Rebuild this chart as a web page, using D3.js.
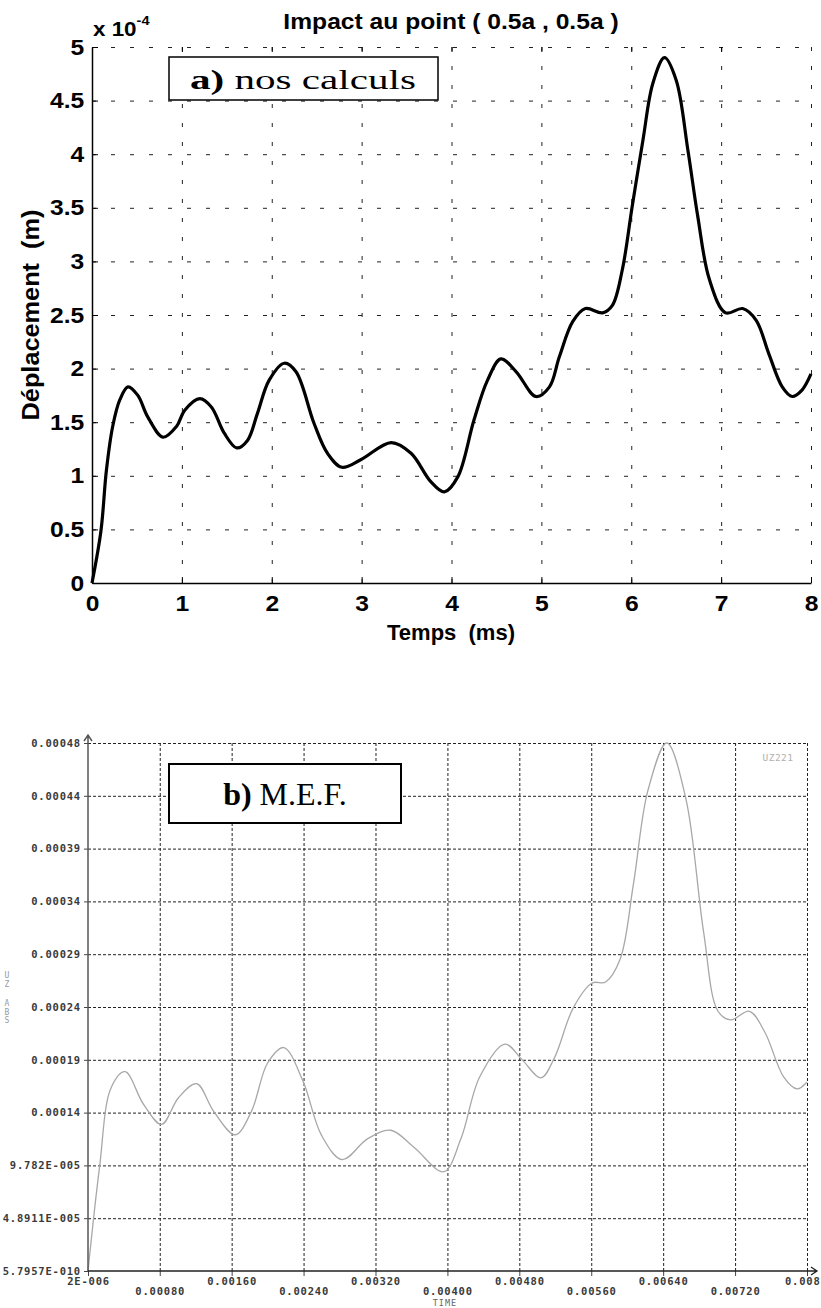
<!DOCTYPE html>
<html>
<head>
<meta charset="utf-8">
<script src="https://cdn.jsdelivr.net/npm/d3@7"></script>
<style>
  body { margin: 0; background: #fff; }
  svg { display: block; }
</style>
</head>
<body>
<script>
// --- panel a) : nos calculs (temps en ms, deplacement en 1e-4 m)
var tempsA = [0, 0.10, 0.16, 0.23, 0.31, 0.40, 0.51, 0.62, 0.79, 0.94, 1.03, 1.20, 1.33, 1.47, 1.61, 1.73, 1.84, 1.97,
  2.14, 2.27, 2.47, 2.62, 2.78, 2.99, 3.33, 3.55, 3.77, 3.92, 4.07, 4.25, 4.40, 4.55, 4.72, 4.94, 5.09, 5.20,
  5.35, 5.49, 5.68, 5.79, 5.90, 6.01, 6.13, 6.24, 6.37, 6.50, 6.63, 6.74, 6.87, 7.05, 7.24, 7.39, 7.53, 7.68,
  7.79, 7.90, 8.00];
var deplA = [0, 0.49, 1.05, 1.46, 1.71, 1.83, 1.75, 1.55, 1.36, 1.46, 1.61, 1.72, 1.64, 1.40, 1.26, 1.33, 1.58, 1.89,
  2.05, 1.97, 1.49, 1.21, 1.08, 1.15, 1.31, 1.21, 0.945, 0.85, 0.99, 1.52, 1.89, 2.09, 1.97, 1.74, 1.83, 2.11,
  2.44, 2.56, 2.52, 2.59, 2.92, 3.51, 4.13, 4.66, 4.90, 4.69, 4.04, 3.42, 2.83, 2.52, 2.56, 2.45, 2.14, 1.83,
  1.74, 1.80, 1.95];
var xTicksA = [0, 1, 2, 3, 4, 5, 6, 7, 8];
var xTickLabelsA = ["0", "1", "2", "3", "4", "5", "6", "7", "8"];
var yTicksA = [0, 0.5, 1, 1.5, 2, 2.5, 3, 3.5, 4, 4.5, 5];
var yTickLabelsA = ["0", "0.5", "1", "1.5", "2", "2.5", "3", "3.5", "4", "4.5", "5"];

// --- panel b) : M.E.F. (TIME en s, UZ en m)
var timeB = [0.000002, 0.00013, 0.00026, 0.000415, 0.00062, 0.00082, 0.00101, 0.00121, 0.00140, 0.00164, 0.00182,
  0.00200, 0.00218, 0.00239, 0.00260, 0.00283, 0.00311, 0.00337, 0.00363, 0.00396, 0.00415, 0.00436, 0.00464,
  0.00483, 0.00504, 0.00519, 0.00540, 0.00561, 0.00576, 0.00592, 0.00607, 0.00623, 0.00644, 0.00665, 0.00685,
  0.00701, 0.00715, 0.00736, 0.00753, 0.00774, 0.00789, 0.00800];
var uzB = [5.7957e-10, 9.6e-5, 1.70e-4, 1.846e-4, 1.543e-4, 1.358e-4, 1.607e-4, 1.735e-4, 1.479e-4, 1.262e-4, 1.479e-4,
  1.927e-4, 2.070e-4, 1.767e-4, 1.256e-4, 1.032e-4, 1.224e-4, 1.304e-4, 1.144e-4, 0.920e-4, 1.224e-4, 1.799e-4, 2.102e-4,
  1.958e-4, 1.789e-4, 1.974e-4, 2.438e-4, 2.668e-4, 2.677e-4, 2.885e-4, 3.588e-4, 4.450e-4, 4.891e-4, 4.386e-4, 3.140e-4,
  2.406e-4, 2.326e-4, 2.406e-4, 2.214e-4, 1.799e-4, 1.687e-4, 1.751e-4];
var xTicksB = [0.000002, 0.0008, 0.0016, 0.0024, 0.0032, 0.0040, 0.0048, 0.0056, 0.0064, 0.0072, 0.0080];
var xTickLabelsB = ["2E-006", "0.00080", "0.00160", "0.00240", "0.00320", "0.00400", "0.00480", "0.00560", "0.00640", "0.00720", "0.008"];
var yTicksB = [5.7957e-10, 4.8911e-5, 9.782e-5, 1.46733e-4, 1.95644e-4, 2.44555e-4, 2.93466e-4, 3.42377e-4, 3.91288e-4, 4.40199e-4, 4.8911e-4];
var yTickLabelsB = ["5.7957E-010", "4.8911E-005", "9.782E-005", "0.00014", "0.00019", "0.00024", "0.00029", "0.00034", "0.00039", "0.00044", "0.00048"];

var svg = d3.select("body").append("svg")
  .attr("width", 821)
  .attr("height", 1308);
svg.append("rect").attr("width", 821).attr("height", 1308).attr("fill", "#fff");

var sans = "'Liberation Sans', Arial, sans-serif";
var serif = "'Liberation Serif', 'Times New Roman', serif";
var mono = "'DejaVu Sans Mono', monospace";
var sx = 1.12; // la figure du haut est un peu etiree en largeur

// ================= panel a =================
var xA = d3.scaleLinear().domain([0, 8]).range([92, 811]);
var yA = d3.scaleLinear().domain([0, 5]).range([583, 47]);

// grille
svg.append("g")
  .attr("transform", "translate(0," + yA(0) + ")")
  .call(d3.axisBottom(xA).tickValues(xTicksA.slice(1)).tickSize(-(yA(0) - yA(5))).tickFormat(""))
  .call(function(g) { g.select(".domain").remove(); })
  .selectAll("line")
  .attr("stroke", "#222").attr("stroke-dasharray", "4,15");

svg.append("g")
  .attr("transform", "translate(" + xA(0) + ",0)")
  .call(d3.axisLeft(yA).tickValues(yTicksA.slice(1)).tickSize(-(xA(8) - xA(0))).tickFormat(""))
  .call(function(g) { g.select(".domain").remove(); })
  .selectAll("line")
  .attr("stroke", "#222").attr("stroke-dasharray", "4,15");

// petits traits en haut
svg.append("g")
  .attr("transform", "translate(0," + yA(5) + ")")
  .call(d3.axisTop(xA).tickValues(xTicksA.slice(1, 8)).tickSize(-5).tickFormat(""))
  .call(function(g) { g.select(".domain").remove(); })
  .selectAll("line").attr("stroke", "#000");

// axes
var axB = svg.append("g")
  .attr("transform", "translate(0," + yA(0) + ")")
  .call(d3.axisBottom(xA).tickValues(xTicksA).tickFormat(function(d, i) { return xTickLabelsA[i]; })
    .tickSizeInner(-6).tickSizeOuter(0).tickPadding(12));
var axL = svg.append("g")
  .attr("transform", "translate(" + xA(0) + ",0)")
  .call(d3.axisLeft(yA).tickValues(yTicksA).tickFormat(function(d, i) { return yTickLabelsA[i]; })
    .tickSizeInner(-6).tickSizeOuter(0).tickPadding(7));
[axB, axL].forEach(function(ax) {
  ax.select(".domain").attr("stroke", "#000").attr("stroke-width", 1.5);
  ax.selectAll(".tick line").attr("stroke", "#000");
  ax.selectAll("text")
    .attr("fill", "#000")
    .style("font-family", sans)
    .style("font-weight", "bold")
    .style("font-size", "22px")
    .attr("transform", "scale(" + sx + ",1)");
});

// courbe
var lineA = d3.line()
  .x(function(d) { return xA(d[0]); })
  .y(function(d) { return yA(d[1]); })
  .curve(d3.curveCatmullRom);
svg.append("path")
  .datum(d3.zip(tempsA, deplA))
  .attr("d", lineA)
  .attr("fill", "none")
  .attr("stroke", "#000")
  .attr("stroke-width", 3.2)
  .attr("stroke-linejoin", "round");

// textes
svg.append("text")
  .attr("transform", "translate(451,29) scale(" + sx + ",1)")
  .attr("text-anchor", "middle")
  .style("font-family", sans).style("font-weight", "bold").style("font-size", "22px")
  .text("Impact au point ( 0.5a , 0.5a )");

var expo = svg.append("text")
  .attr("transform", "translate(93,36) scale(" + sx + ",1)")
  .style("font-family", sans).style("font-weight", "bold").style("font-size", "20px");
expo.append("tspan").text("x 10");
expo.append("tspan").attr("dy", -11).style("font-size", "13px").text("-4");

svg.append("text")
  .attr("transform", "translate(451,640)")
  .attr("text-anchor", "middle")
  .style("font-family", sans).style("font-weight", "bold").style("font-size", "22px")
  .style("white-space", "pre")
  .text("Temps  (ms)");

svg.append("text")
  .attr("transform", "translate(39,315) rotate(-90) scale(1.15,1.1)")
  .attr("text-anchor", "middle")
  .style("font-family", sans).style("font-weight", "bold").style("font-size", "22px")
  .style("white-space", "pre")
  .text("Déplacement  (m)");

// legende a)
svg.append("rect")
  .attr("x", 169).attr("y", 57).attr("width", 269).attr("height", 43)
  .attr("fill", "#fff").attr("stroke", "#000").attr("stroke-width", 1.5);
var legA = svg.append("text")
  .attr("x", 303).attr("y", 89)
  .attr("text-anchor", "middle")
  .attr("textLength", 226).attr("lengthAdjust", "spacingAndGlyphs")
  .style("font-family", serif).style("font-size", "28px");
legA.append("tspan").style("font-weight", "bold").text("a)");
legA.append("tspan").text(" nos calculs");

// ================= panel b =================
var xB = d3.scaleLinear().domain([0.000002, 0.008]).range([88, 807]);
var yB = d3.scaleLinear().domain([5.7957e-10, 4.8911e-4]).range([1271, 743]);

svg.append("g")
  .attr("transform", "translate(0," + yB.range()[0] + ")")
  .call(d3.axisBottom(xB).tickValues(xTicksB.slice(1)).tickSize(-(yB.range()[0] - yB.range()[1])).tickFormat(""))
  .call(function(g) { g.select(".domain").remove(); })
  .selectAll("line")
  .attr("stroke", "#222").attr("stroke-dasharray", "3,2");

svg.append("g")
  .attr("transform", "translate(" + xB.range()[0] + ",0)")
  .call(d3.axisLeft(yB).tickValues(yTicksB.slice(1)).tickSize(-(xB.range()[1] - xB.range()[0])).tickFormat(""))
  .call(function(g) { g.select(".domain").remove(); })
  .selectAll("line")
  .attr("stroke", "#222").attr("stroke-dasharray", "3,2");

// courbe M.E.F.
var lineB = d3.line()
  .x(function(d) { return xB(d[0]); })
  .y(function(d) { return yB(d[1]); })
  .curve(d3.curveCatmullRom);
svg.append("path")
  .datum(d3.zip(timeB, uzB))
  .attr("d", lineB)
  .attr("fill", "none")
  .attr("stroke", "#a8a8a8")
  .attr("stroke-width", 1.3);

// axes b
var bx = svg.append("g")
  .attr("transform", "translate(0," + yB.range()[0] + ")")
  .call(d3.axisBottom(xB).tickValues(xTicksB).tickFormat(function(d, i) { return xTickLabelsB[i]; })
    .tickSize(5).tickPadding(3));
bx.select(".domain").remove();
bx.selectAll("text")
  .attr("y", function(d, i) { return i % 2 === 0 ? 14 : 23.5; })
  .attr("dy", 0);
// la derniere etiquette est collee au bord droit
bx.selectAll("text").filter(function(d, i) { return i === xTicksB.length - 1; })
  .attr("text-anchor", "end")
  .attr("x", 820 - xB(xTicksB[xTicksB.length - 1]));

var by = svg.append("g")
  .attr("transform", "translate(" + xB.range()[0] + ",0)")
  .call(d3.axisLeft(yB).tickValues(yTicksB).tickFormat(function(d, i) { return yTickLabelsB[i]; })
    .tickSize(4).tickPadding(3));
by.select(".domain").remove();

[bx, by].forEach(function(ax) {
  ax.selectAll(".tick line").attr("stroke", "#444");
  ax.selectAll("text")
    .attr("fill", "#3a3a3a")
    .style("font-family", mono)
    .style("font-weight", "bold")
    .style("font-size", "10.5px")
    .style("letter-spacing", "0.8px");
});

// traits d'axes avec fleches
var x0 = xB.range()[0], y0 = yB.range()[0];
var yTop = yB.range()[1] - 8, xEnd = xB.range()[1] + 10;
svg.append("path")
  .attr("d", "M" + x0 + "," + y0 + "V" + yTop + "M" + (x0 - 4) + "," + (yTop + 6) + "L" + x0 + "," + yTop + "L" + (x0 + 4) + "," + (yTop + 6))
  .attr("fill", "none").attr("stroke", "#555").attr("stroke-width", 1.5);
svg.append("path")
  .attr("d", "M" + x0 + "," + y0 + "H" + xEnd + "M" + (xEnd - 6) + "," + (y0 - 4) + "L" + xEnd + "," + y0 + "L" + (xEnd - 6) + "," + (y0 + 4))
  .attr("fill", "none").attr("stroke", "#222").attr("stroke-width", 1.3);

svg.append("text")
  .attr("x", 445).attr("y", 1306)
  .attr("text-anchor", "middle")
  .attr("fill", "#666")
  .style("font-family", mono).style("font-size", "8.5px").style("letter-spacing", "1px")
  .text("TIME");

svg.append("text")
  .attr("x", 778).attr("y", 761)
  .attr("text-anchor", "middle")
  .attr("fill", "#b0b0b0")
  .style("font-family", mono).style("font-size", "9.5px").style("letter-spacing", "0.5px")
  .text("UZ221");

var uzLab = svg.append("text")
  .attr("fill", "#999")
  .attr("text-anchor", "middle")
  .style("font-family", mono).style("font-size", "8px");
[["U", 978], ["Z", 987], ["A", 1006], ["B", 1014.5], ["S", 1022.5]].forEach(function(c) {
  uzLab.append("tspan").attr("x", 7).attr("y", c[1]).text(c[0]);
});

// legende b)
svg.append("rect")
  .attr("x", 169).attr("y", 764).attr("width", 232).attr("height", 59)
  .attr("fill", "#fff").attr("stroke", "#000").attr("stroke-width", 2);
var legB = svg.append("text")
  .attr("x", 285).attr("y", 805)
  .attr("text-anchor", "middle")
  .style("font-family", serif).style("font-size", "32px");
legB.append("tspan").style("font-weight", "bold").text("b)");
legB.append("tspan").text(" M.E.F.");
</script>
</body>
</html>
